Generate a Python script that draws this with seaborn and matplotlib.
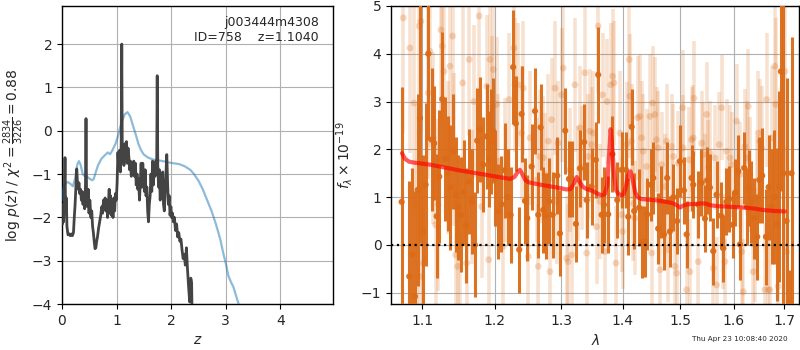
import matplotlib
matplotlib.use("Agg")
import matplotlib.pyplot as plt
from matplotlib.ticker import NullLocator, FixedLocator, FixedFormatter
import numpy as np
import pandas as pd
import seaborn as sns

# ---------------- p(z) panel data ----------------
z_chi2 = [0.00, 0.01, 0.02, 0.03, 0.045, 0.055, 0.065, 0.08, 0.09, 0.11, 0.13, 0.15, 0.17, 0.19,
          0.21, 0.225, 0.24, 0.255, 0.27, 0.285, 0.30, 0.31, 0.325, 0.34, 0.355, 0.37, 0.385,
          0.40, 0.415, 0.43, 0.44, 0.45, 0.465, 0.48, 0.495, 0.51, 0.53, 0.545, 0.56, 0.575,
          0.59, 0.605, 0.62, 0.635, 0.65, 0.67, 0.69, 0.71, 0.73, 0.745, 0.76, 0.775, 0.79,
          0.805, 0.82, 0.835, 0.85, 0.865, 0.875, 0.89, 0.905, 0.92, 0.935, 0.95, 0.965, 0.98,
          0.995, 1.01, 1.025, 1.04, 1.055, 1.07, 1.085, 1.095, 1.105, 1.12, 1.135, 1.15, 1.165,
          1.18, 1.195, 1.21, 1.225, 1.24, 1.255, 1.27, 1.285, 1.30, 1.315, 1.33, 1.345, 1.36,
          1.375, 1.39, 1.405, 1.42, 1.435, 1.45, 1.465, 1.48, 1.495, 1.51, 1.525, 1.54, 1.555,
          1.57, 1.585, 1.60, 1.615, 1.63, 1.645, 1.66, 1.675, 1.69, 1.705, 1.72, 1.735, 1.745,
          1.755, 1.77, 1.785, 1.80, 1.815, 1.83, 1.845, 1.86, 1.875, 1.89, 1.905, 1.92, 1.935,
          1.95, 1.965, 1.98, 1.995, 2.01, 2.025, 2.04, 2.06, 2.08, 2.10, 2.12, 2.14, 2.16, 2.18,
          2.20, 2.22, 2.24, 2.26, 2.28, 2.30, 2.32, 2.34, 2.36, 2.375, 2.385, 2.40]
logp_chi2 = [-1.75, -2.15, -1.7, -2.1, -1.5, -0.62, -1.9, -1.55, -2.2, -2.4, -2.38, -2.42, -2.38, -2.42,
             -2.35, -2.0, -1.7, -1.3, -0.88, -1.25, -1.35, -1.2, -1.45, -1.35, -1.6, -1.4, -1.7,
             -1.45, -1.8, -1.3, 0.28, -1.5, -1.75, -1.35, -1.9, -1.6, -2.0, -1.85, -2.2, -2.35,
             -2.55, -2.72, -2.7, -2.55, -2.45, -2.25, -2.1, -1.95, -1.75, -1.9, -1.6, -1.75, -1.55,
             -1.85, -1.6, -2.0, -1.7, -1.35, -1.9, -1.5, -1.95, -1.75, -2.0, -1.55, -1.85, -1.45,
             -1.6, -1.2, -0.5, -0.9, -0.45, -0.95, -0.3, 2.0, -0.6, -0.35, -0.8, -0.3, -0.6,
             -0.25, -0.75, -0.4, -0.6, -0.9, -0.7, -1.05, -0.8, -1.0, -0.7, -1.05, -0.75, -1.25,
             -1.0, -1.35, -1.1, -1.6, -1.2, -0.75, -1.3, -0.75, -1.05, -1.4, -0.9, -1.5, -1.3,
             -1.85, -2.1, -1.7, -1.5, -1.0, -1.4, -0.7, -1.25, -0.8, -1.05, -0.7, -0.9, 1.27,
             -0.8, -1.3, -0.9, -1.6, -1.0, -1.5, -0.95, -1.7, -1.85, -1.4, -1.0, -0.55, -1.2,
             -1.7, -1.5, -1.95, -1.75, -2.0, -1.9, -2.1, -2.0, -2.3, -2.15, -2.45, -2.35, -2.55, -2.5,
             -2.75, -2.95, -2.85, -3.1, -2.7, -3.2, -3.6, -3.95, -3.4, -3.5, -4.3, -4.6]

z_prior = [0.0, 0.03, 0.06, 0.1, 0.15, 0.2, 0.24, 0.28, 0.31, 0.34, 0.38, 0.42, 0.46, 0.5, 0.55,
           0.58, 0.62, 0.66, 0.72, 0.78, 0.84, 0.88, 0.92, 0.98, 1.02, 1.06, 1.1, 1.15, 1.2, 1.25,
           1.3, 1.35, 1.4, 1.45, 1.5, 1.58, 1.66, 1.75, 1.85, 1.95, 2.05, 2.15, 2.25, 2.35, 2.42,
           2.5, 2.58, 2.66, 2.74, 2.82, 2.9, 2.96, 3.0, 3.05, 3.1, 3.14, 3.2, 3.25, 3.3]
logp_prior = [-1.6, -1.3, -1.22, -1.18, -1.22, -1.28, -1.1, -0.78, -0.7, -0.78, -1.0, -1.05, -1.06,
              -1.1, -1.14, -1.12, -0.95, -0.8, -0.65, -0.57, -0.5, -0.54, -0.46, -0.3, -0.15, 0.05,
              0.22, 0.38, 0.43, 0.33, 0.12, -0.08, -0.3, -0.45, -0.55, -0.62, -0.66, -0.68, -0.7,
              -0.73, -0.75, -0.77, -0.82, -0.9, -1.0, -1.15, -1.35, -1.6, -1.85, -2.15, -2.5,
              -2.85, -3.05, -3.35, -3.5, -3.6, -3.85, -4.05, -4.3]

# ---------------- spectrum panel data ----------------
wave_dark = [1.0731, 1.0830, 1.0869, 1.0904, 1.0940, 1.0970, 1.1014, 1.1045, 1.1080, 1.1125,
             1.1160, 1.1192, 1.1228, 1.1268, 1.1305, 1.1341, 1.1380, 1.1418, 1.1455, 1.1487,
             1.1524, 1.1561, 1.1597, 1.1639, 1.1677, 1.1719, 1.1752, 1.1790, 1.1837, 1.1886,
             1.1919, 1.1948, 1.1972, 1.2010, 1.2053, 1.2099, 1.2150, 1.2190, 1.2233, 1.2271,
             1.2311, 1.2361, 1.2396, 1.2446, 1.2481, 1.2547, 1.2597, 1.2647, 1.2683, 1.2723,
             1.2764, 1.2815, 1.2868, 1.2939, 1.2981, 1.3064, 1.3122, 1.3165, 1.3233, 1.3297,
             1.3366, 1.3405, 1.3485, 1.3555, 1.3592, 1.3648, 1.3686, 1.3757, 1.3827, 1.3907,
             1.3980, 1.4053, 1.4092, 1.4150, 1.4194, 1.4279, 1.4320, 1.4377, 1.4417, 1.4476,
             1.4522, 1.4609, 1.4657, 1.4710, 1.4768, 1.4816, 1.4879, 1.4947, 1.4996, 1.5068,
             1.5117, 1.5208, 1.5238, 1.5330, 1.5389, 1.5454, 1.5497, 1.5547, 1.5609, 1.5672,
             1.5754, 1.5798, 1.5859, 1.5912, 1.5977, 1.6031, 1.6086, 1.6118, 1.6202, 1.6254,
             1.6299, 1.6342, 1.6392, 1.6457, 1.6497, 1.6556, 1.6630, 1.6684, 1.6744, 1.6800,
             1.6857, 1.6897, 1.6932, 1.6983, 1.7048, 1.7116, 1.7150]
flux_dark = [0.9, -0.66, -0.2, -1.08, 1.15, 2.65, 0.28, 1.26, 4.0, 2.2,
             2.13, 0.6, 1.43, 3.05, 1.8, 1.5, 1.2, 1.95, 1.05, 0.78,
             0.63, 1.1, 0.4, 1.33, 0.9, 0.0, 2.18, 2.41, 1.68, 2.27,
             1.8, 2.17, 2.4, 1.4, 0.7, 0.85, 1.56, 1.0, 0.63, 3.72,
             2.54, -0.1, 2.74, 0.92, 0.56, 1.64, 2.8, 0.63, 2.46, 0.73,
             0.61, 0.91, 0.63, 1.45, 0.24, 2.39, 1.38, 1.38, 0.44, 1.6,
             2.15, 0.94, 1.22, 1.78, 3.56, 0.63, 0.84, 0.64, 1.9, 0.94,
             1.57, 1.57, 0.59, 2.47, 0.71, 0.78, 0.06, 0.07, 0.64, 1.26,
             1.4, 0.34, 0.9, 0.22, 1.4, 0.28, 1.0, 0.5, 1.75, 1.14,
             0.22, 1.4, 1.26, 0.84, 1.3, 0.55, 1.35, 1.2, -0.13, 1.05,
             0.61, -0.07, 0.9, 0.96, 0.42, 1.1, 1.54, 0.01, 1.61, 0.8,
             1.19, 0.9, 0.56, 0.17, 1.36, 1.45, 0.17, 1.21, 0.8, 1.0,
             0.43, 1.22, 3.63, 1.5, 0.5, -1.2, 1.5]
err_dark = [2.4, 2.0, 1.8, 2.2, 2.0, 2.6, 1.6, 1.7, 1.8, 1.5,
            1.2, 1.3, 1.4, 1.4, 1.3, 1.2, 1.3, 1.2, 1.2, 1.1,
            1.2, 1.1, 1.2, 1.1, 1.1, 1.1, 1.1, 1.1, 1.0, 1.1,
            1.0, 1.1, 1.1, 1.0, 1.0, 1.0, 1.0, 1.0, 1.0, 1.2,
            1.0, 0.9, 1.0, 0.9, 0.9, 0.9, 0.9, 0.9, 0.9, 0.9,
            0.9, 0.9, 0.9, 0.8, 0.9, 0.9, 0.8, 0.8, 0.8, 0.8,
            0.8, 0.8, 0.8, 0.8, 1.0, 0.8, 0.8, 0.8, 0.8, 0.8,
            0.8, 0.8, 0.8, 0.8, 0.8, 0.8, 0.75, 0.75, 0.75, 0.75,
            0.75, 0.75, 0.75, 0.75, 0.75, 0.75, 0.7, 0.7, 0.75, 0.7,
            0.7, 0.7, 0.7, 0.7, 0.7, 0.7, 0.7, 0.7, 0.7, 0.7,
            0.7, 0.7, 0.7, 0.7, 0.7, 0.7, 0.75, 0.75, 0.75, 0.8,
            0.8, 0.85, 0.85, 0.9, 0.9, 1.0, 1.0, 1.1, 1.2, 1.4,
            1.6, 2.0, 2.5, 4.0, 3.0, 0.68, 2.85]

wave_light = [1.0752, 1.0839, 1.0891, 1.0926, 1.0960, 1.0970, 1.0983, 1.1014, 1.1080, 1.1102,
              1.1146, 1.1178, 1.1213, 1.1250, 1.1268, 1.1291, 1.1349, 1.1373, 1.1410, 1.1428,
              1.1451, 1.1478, 1.1510, 1.1548, 1.1603, 1.1639, 1.1673, 1.1705, 1.1780, 1.1814,
              1.1886, 1.1914, 1.1933, 1.1957, 1.1981, 1.2029, 1.2053, 1.2126, 1.2150, 1.2212,
              1.2282, 1.2297, 1.2346, 1.2396, 1.2421, 1.2496, 1.2521, 1.2623, 1.2647, 1.2672,
              1.2723, 1.2749, 1.2800, 1.2826, 1.2852, 1.2903, 1.2929, 1.2955, 1.3007, 1.3033,
              1.3086, 1.3112, 1.3138, 1.3165, 1.3217, 1.3271, 1.3297, 1.3324, 1.3378, 1.3405,
              1.3431, 1.3458, 1.3485, 1.3512, 1.3566, 1.3592, 1.3620, 1.3664, 1.3702, 1.3740,
              1.3797, 1.3830, 1.3852, 1.3885, 1.3952, 1.3981, 1.3998, 1.4065, 1.4109, 1.4121,
              1.4150, 1.4177, 1.4206, 1.4251, 1.4291, 1.4320, 1.4348, 1.4406, 1.4464, 1.4494,
              1.4511, 1.4551, 1.4581, 1.4610, 1.4639, 1.4669, 1.4728, 1.4757, 1.4786, 1.4846,
              1.4876, 1.4906, 1.4936, 1.4966, 1.5045, 1.5056, 1.5117, 1.5164, 1.5177, 1.5208,
              1.5238, 1.5251, 1.5330, 1.5392, 1.5423, 1.5454, 1.5485, 1.5516, 1.5547, 1.5609,
              1.5641, 1.5672, 1.5722, 1.5767, 1.5798, 1.5830, 1.5862, 1.5925, 1.5958, 1.6054,
              1.6118, 1.6151, 1.6183, 1.6216, 1.6249, 1.6281, 1.6313, 1.6379, 1.6412, 1.6446,
              1.6478, 1.6510, 1.6544, 1.6610, 1.6644, 1.6676, 1.6710, 1.6744, 1.6811, 1.6831,
              1.6877, 1.7014, 1.7048]
flux_light = [4.75, 4.12, 2.97, 0.84, 4.58, -0.66, 4.68, -0.38, 3.18, 4.05,
              2.24, 0.42, 0.84, 4.5, 4.16, 3.63, 1.82, 3.74, 4.37, 1.99,
              -0.21, -0.45, 0.03, 3.39, -0.38, 3.88, 1.01, 3.0, 4.79, 0.8,
              3.32, -0.31, 3.88, 2.87, 3.67, 2.94, 1.75, -0.03, 1.57, 3.04,
              4.12, 3.35, 3.35, 2.34, 3.28, -0.24, 2.24, 1.36, -0.45, 1.85,
              1.82, 1.47, 2.17, -0.56, 2.62, 3.28, 0.91, 2.13, 3.14, 3.7,
              -0.28, -0.35, 1.57, -0.21, 3.35, 1.29, 2.45, 1.61, 3.6, -0.17,
              1.85, 2.38, 2.1, 2.34, 0.38, 4.58, 0.91, 3.14, -0.14, 3.0,
              3.35, 3.53, 3.39, -0.38, 2.34, 0.63, 0.28, 2.1, 3.88, 3.11,
              2.17, 0.87, 0.56, 2.66, 2.69, 2.24, 1.96, 1.64, 2.69, -0.17,
              2.97, 2.73, 2.2, 2.03, -0.52, 1.68, 1.22, 2.17, -0.1, 2.06,
              1.85, -0.45, -0.59, 1.71, 2.87, 2.03, -0.94, 1.78, -0.56, 2.2,
              2.24, 3.07, -0.35, 2.13, 1.89, 1.33, 2.73, 1.61, 1.92, -0.49,
              1.82, -0.84, 2.1, 2.87, 0.07, -0.35, 1.96, 1.82, 1.68, 2.59,
              1.47, -0.14, -0.98, 2.06, 1.82, 2.9, 1.47, -0.56, 0.0, 0.98,
              2.34, 2.17, 2.03, -0.94, 3.04, -0.94, -0.94, 2.24, 3.74, 2.94,
              -0.87, 3.63, -0.14]
err_light = [2.4, 2.2, 2.3, 2.1, 2.4, 2.0, 2.3, 1.9, 1.8, 2.0,
             1.8, 1.7, 1.8, 1.9, 1.7, 1.8, 1.6, 1.7, 1.8, 1.6,
             1.5, 1.6, 1.5, 1.7, 1.5, 1.6, 1.4, 1.6, 1.7, 1.5,
             1.5, 1.4, 1.6, 1.5, 1.5, 1.4, 1.4, 1.4, 1.5, 1.4,
             1.5, 1.4, 1.3, 1.4, 1.4, 1.3, 1.4, 1.3, 1.3, 1.4,
             1.3, 1.3, 1.4, 1.3, 1.3, 1.4, 1.3, 1.3, 1.4, 1.3,
             1.3, 1.2, 1.3, 1.3, 1.4, 1.2, 1.3, 1.3, 1.4, 1.2,
             1.3, 1.3, 1.2, 1.3, 1.2, 1.4, 1.2, 1.3, 1.2, 1.3,
             1.3, 1.4, 1.3, 1.2, 1.3, 1.2, 1.2, 1.3, 1.4, 1.3,
             1.2, 1.2, 1.2, 1.3, 1.3, 1.2, 1.2, 1.2, 1.3, 1.1,
             1.2, 1.2, 1.1, 1.2, 1.1, 1.1, 1.1, 1.2, 1.1, 1.1,
             1.1, 1.1, 1.1, 1.1, 1.2, 1.1, 1.1, 1.1, 1.1, 1.1,
             1.1, 1.2, 1.1, 1.1, 1.1, 1.0, 1.1, 1.0, 1.1, 1.0,
             1.1, 1.0, 1.1, 1.1, 1.0, 1.0, 1.1, 1.1, 1.1, 1.2,
             1.1, 1.1, 1.1, 1.2, 1.2, 1.2, 1.2, 1.2, 1.2, 1.3,
             1.3, 1.3, 1.3, 1.4, 1.4, 1.4, 1.5, 1.5, 1.7, 1.8,
             1.8, 2.2, 2.2]

wave_model = [1.0735, 1.0775, 1.0830, 1.0900, 1.1000, 1.1100, 1.1300, 1.1500, 1.1700, 1.1900,
              1.2100, 1.2230, 1.2290, 1.2340, 1.2370, 1.2400, 1.2450, 1.2500, 1.2600, 1.2720,
              1.2850, 1.2980, 1.3080, 1.3150, 1.3200, 1.3245, 1.3290, 1.3340, 1.3400, 1.3500,
              1.3570, 1.3620, 1.3660, 1.3700, 1.3740, 1.3770, 1.3797, 1.3825, 1.3855, 1.3885,
              1.3930, 1.3980, 1.4010, 1.4050, 1.4090, 1.4132, 1.4170, 1.4210, 1.4260, 1.4320,
              1.4400, 1.4500, 1.4600, 1.4700, 1.4800, 1.4870, 1.4940, 1.4996, 1.5050, 1.5150,
              1.5300, 1.5420, 1.5480, 1.5550, 1.5700, 1.5900, 1.6050, 1.6200, 1.6400, 1.6570,
              1.6800, 1.7014]
flux_model = [1.92, 1.80, 1.74, 1.72, 1.70, 1.68, 1.62, 1.56, 1.51, 1.46,
              1.41, 1.38, 1.42, 1.53, 1.57, 1.50, 1.36, 1.31, 1.28, 1.25,
              1.22, 1.19, 1.16, 1.17, 1.28, 1.42, 1.32, 1.22, 1.17, 1.13,
              1.08, 1.05, 1.04, 1.06, 1.25, 1.85, 2.42, 2.05, 1.45, 1.15,
              1.06, 1.04, 1.05, 1.20, 1.45, 1.54, 1.35, 1.10, 0.99, 0.96,
              0.95, 0.94, 0.93, 0.91, 0.89, 0.87, 0.83, 0.78, 0.82, 0.85,
              0.86, 0.87, 0.86, 0.83, 0.81, 0.80, 0.79, 0.78, 0.76, 0.73,
              0.71, 0.70]

wave_ticks = [1.1, 1.2, 1.3, 1.4, 1.5, 1.6, 1.7]

sns.set_style("white")
plt.rcParams['font.family'] = ['DejaVu Sans']

fig = plt.figure(figsize=(8, 3.5), dpi=100)
ax1 = fig.add_axes([0.0775, 0.131, 0.339, 0.852])
ax2 = fig.add_axes([0.489, 0.131, 0.510, 0.852])

grid_kw = dict(color='#b0b0b0', linewidth=0.8)
for ax in (ax1, ax2):
    for sp in ax.spines.values():
        sp.set_color('black')
        sp.set_linewidth(1.0)
    ax.tick_params(axis='both', which='major', direction='out', length=3.5, width=0.8,
                   color='black', labelsize=10, bottom=True, left=True)

# ----- left: redshift probability -----
chi_df = pd.DataFrame({'z': z_chi2, 'logp': logp_chi2})
pri_df = pd.DataFrame({'z': z_prior, 'logp': logp_prior})
sns.lineplot(data=pri_df, x='z', y='logp', ax=ax1, color='#1f77b4', alpha=0.5,
             linewidth=1.6, estimator=None, sort=False, zorder=3)
sns.lineplot(data=chi_df, x='z', y='logp', ax=ax1, color='#3a3a3a', alpha=0.95,
             linewidth=2.0, estimator=None, sort=False, zorder=4)
ax1.set_xlim(0, 4.97)
ax1.set_ylim(-4, 2.88)
ax1.set_xticks([0, 1, 2, 3, 4])
ax1.set_yticks([-4, -3, -2, -1, 0, 1, 2])
ax1.grid(True, **grid_kw)
ax1.set_axisbelow(True)
ax1.set_xlabel(r'$z$', fontsize=10)
ax1.set_ylabel(r'log $p(z)$ / $\chi^2=\frac{2834}{3226}=0.88$', fontsize=10)
ax1.text(0.948, 0.965, 'j003444m4308\nID=758    z=1.1040', transform=ax1.transAxes,
         ha='right', va='top', fontsize=9, linespacing=1.15)

# ----- right: 1D spectrum -----
orange = '#db6b17'
light_df = pd.DataFrame({'wave': wave_light, 'flux': flux_light, 'err': err_light})
dark_df = pd.DataFrame({'wave': wave_dark, 'flux': flux_dark, 'err': err_dark})
model_df = pd.DataFrame({'wave': wave_model, 'flux': flux_model})

ax2.errorbar(light_df['wave'], light_df['flux'], yerr=light_df['err'], fmt='none',
             ecolor=orange, alpha=0.2, elinewidth=2.6, capsize=0, zorder=2)
sns.scatterplot(data=light_df, x='wave', y='flux', ax=ax2, color=orange, alpha=0.25,
                s=24, edgecolor='none', zorder=2)
ax2.errorbar(dark_df['wave'], dark_df['flux'], yerr=dark_df['err'], fmt='none',
             ecolor=orange, alpha=0.95, elinewidth=2.2, capsize=0, zorder=3)
sns.scatterplot(data=dark_df, x='wave', y='flux', ax=ax2, color=orange, alpha=0.95,
                s=20, edgecolor='none', zorder=3)
sns.lineplot(data=model_df, x='wave', y='flux', ax=ax2, color='red', alpha=0.65,
             linewidth=3.0, estimator=None, sort=False, zorder=5)
ax2.axhline(0, color='black', linestyle=':', linewidth=1.6, zorder=6)

ax2.set_xscale('log')
ax2.set_xlim(1.0597, 1.7309)
ax2.set_ylim(-1.24, 5.0)
ax2.xaxis.set_major_locator(FixedLocator(wave_ticks))
ax2.xaxis.set_major_formatter(FixedFormatter([f'{w:.1f}' for w in wave_ticks]))
ax2.xaxis.set_minor_locator(NullLocator())
ax2.set_yticks([-1, 0, 1, 2, 3, 4, 5])
ax2.grid(True, which='major', **grid_kw)
ax2.set_axisbelow(True)
ax2.set_xlabel(r'$\lambda$', fontsize=10)
ax2.set_ylabel(r'$f_\lambda\times10^{-19}$', fontsize=10)

fig.text(0.984, 0.031, 'Thu Apr 23 10:08:40 2020', ha='right', va='center', fontsize=5.2)

fig.savefig('out.png', dpi=100)
